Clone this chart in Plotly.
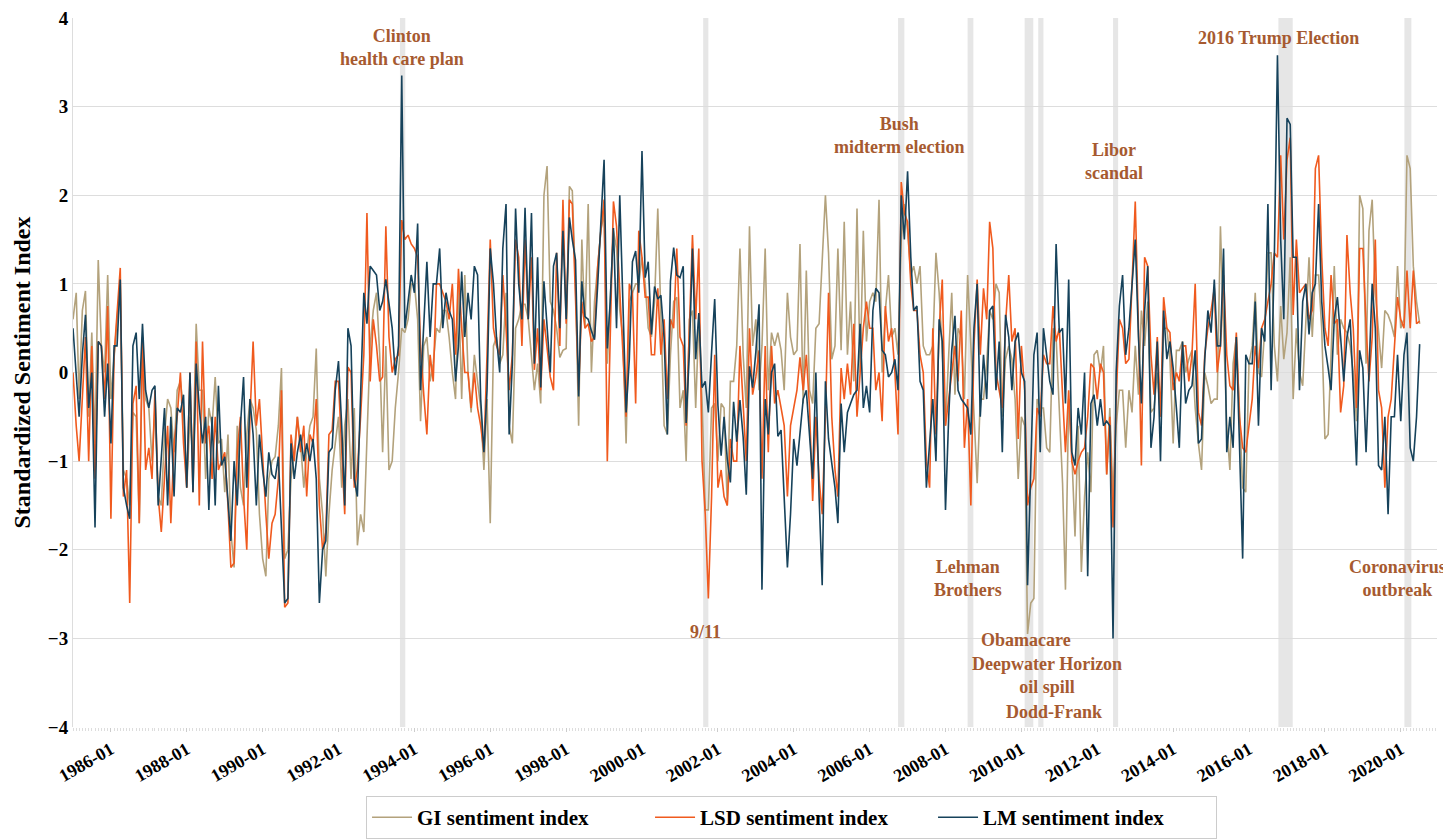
import plotly.graph_objects as go
import pandas as pd

# Monthly observations, 1985-01 .. 2020-07
start_month = "1985-01-01"
n_months = 427

gi_index = [
    0.6, 0.9, -0.3, 0.7, 0.92, -0.5, 0.45, -0.8, 1.27, 0.3, 0.0, 1.1,
    -0.3, 0.2, 0.6, 1.0, -1.1, -1.2, -1.5, -0.45, -0.5, -1.7, 0.25, -0.3,
    -0.4, -1.0, -0.4, -1.4, -1.5, -0.7, -0.3, -0.4, -0.9, -0.2, -0.1, -0.4,
    -1.3, -0.5, -0.95, 0.55, -0.2, -0.2, -1.2, -0.4, -0.6, -0.05, -0.8, -0.75,
    -1.35, -0.7, -1.8, -2.2, -0.6, -1.3, -1.5, -0.7, -0.3, -0.4, -0.65, -1.6,
    -2.1, -2.3, -1.2, -1.0, -0.95, -0.6, 0.05, -2.1, -2.0, -1.2, -0.9, -0.5,
    -0.8, -1.3, -0.9, -0.6, -0.5, 0.27, -1.2, -1.6, -2.3, -1.6, -1.1, -0.8,
    -0.5, -1.3, -0.6, -0.3, -1.2, -0.4, -1.95, -1.6, -1.8, -0.75, 0.3, 0.7,
    0.9, 0.2, -0.9, 0.3, -1.1, -1.0, -0.4, 0.0, 0.5, 0.45, 0.6, 1.0,
    1.0, 0.6, -0.55, 0.3, 0.4, -0.1, 0.1, 0.5, 0.45, 0.7, 0.7, 0.4,
    0.0, -0.3, 1.0, -0.3, 1.1, 0.0, -0.45, 0.2, -0.1, -0.4, -1.1, -0.3,
    -1.7, 0.3, 0.4, 0.1, 0.2, 0.9, -0.6, -0.8, 0.5, 0.6, 0.77, 0.77,
    0.6, 0.2, -0.2, 0.1, -0.35, 2.0, 2.33, 0.8, 0.7, 0.5, 0.17, 0.25,
    0.27, 2.1, 2.05, 1.0, -0.6, 1.5, 0.5, 1.9, 0.0, 0.8, 1.2, 1.6,
    1.8, 0.1, 0.8, 1.6, 1.4, 0.7, 0.4, -0.8, 0.8, 0.9, 1.0, 1.0,
    1.3, 1.0, 0.5, 0.4, 0.8, 1.85, 0.5, -0.6, -0.7, 0.2, 0.8, 0.85,
    -0.4, -0.2, -1.0, 0.6, 0.7, -0.4, 0.6, -0.3, -1.55, -1.55, -0.4, -0.35,
    -1.0, -0.35, -0.4, -1.5, -0.1, -0.1, 0.3, 1.4, 0.2, -0.4, 1.65, 0.3,
    0.6, -0.2, 0.3, 1.4, -0.2, 0.45, 0.3, 0.45, 0.25, -0.2, 0.9, 0.4,
    0.2, 0.25, 1.45, -0.35, 1.15, -0.2, -0.35, 0.5, 0.55, 1.2, 2.0, 1.35,
    0.15, 0.3, 1.4, 0.25, 1.7, 0.2, 0.8, -0.1, 1.85, 0.0, 1.6, 0.35,
    0.8, 0.9, 0.8, 1.95, 0.0, 0.7, 1.1, 0.4, 0.5, 0.2, 1.5, 1.9,
    1.6, 1.1, 1.2, 1.0, 1.2, 0.3, 0.2, 0.2, 0.3, 1.35, 0.9, 0.25,
    -0.6, 0.2, 0.9, -0.25, 0.5, 0.4, -0.3, 1.1, 0.3, -0.35, -1.25, -0.3,
    -0.3, 0.1, 0.7, 0.6, 1.0, 0.9, -0.5, 0.15, 0.3, 0.15, -0.3, -1.2,
    -0.5, -0.6, -2.95, -2.6, -2.55, -0.3, -0.4, -0.4, -0.85, -0.9, 0.5, 0.4,
    -0.35, -1.25, -2.45, -0.3, -0.9, -1.85, -0.6, -2.25, -1.4, -0.9, -1.35, 0.2,
    0.25, 0.0, 0.3, -1.15, -0.4, -1.4, -0.6, -0.2, -0.2, -0.85, -0.2, -0.45,
    0.3, -0.25, 0.7, 0.3, 0.8, -0.45, -0.4, 0.0, -0.5, 0.5, 0.5, 0.15,
    -0.8, 0.25, 0.25, 0.35, 0.0, 0.15, 0.25, -0.4, -0.8, -1.1, 0.0, -0.15,
    -0.35, -0.3, -0.3, 1.65, 0.5, -0.6, -1.1, 0.1, 0.4, -0.4, -1.3, -1.35,
    0.1, 0.3, 0.9, 0.0, -0.05, 0.5, 1.35, 1.35, 0.3, -0.1, 0.75, 0.15,
    0.45, 1.3, -0.3, 0.5, 0.0, -0.15, 0.5, 1.3, 0.4, 1.1, 1.1, 0.5,
    -0.75, -0.7, 0.2, 1.2, 0.2, 0.6, 0.5, 0.45, 0.3, 0.0, -0.55, 2.0,
    1.85, 0.1, 1.6, 1.95, 0.9, 0.5, 0.05, 0.7, 0.65, 0.55, 0.4, 1.2,
    0.5, 0.6, 2.45, 2.3, 1.2, 0.8, 0.55,
]

lsd_index = [
    0.0, -0.6, -1.0, -0.2, 0.4, -1.0, 0.3, -1.2, 0.35, 0.3, -0.3, 0.75,
    -1.65, 0.2, 0.7, 1.18, -1.4, -1.1, -2.6, -0.35, -0.15, -1.7, 0.4, -1.1,
    -0.85, -1.2, -0.2, -1.4, -1.8, -1.2, -0.6, -1.7, -0.8, -0.5, 0.0, -0.8,
    -1.3, 0.0, -1.35, 0.35, -1.5, 0.35, -0.8, -0.6, -1.2, -0.5, -1.1, -1.0,
    -0.9, -1.5, -2.2, -2.15, -0.9, -0.5, -1.4, -2.0, -0.5, 0.35, -0.6, -0.3,
    -1.0, -1.6, -2.1, -1.7, -1.6, -1.2, -0.2, -2.65, -2.6, -0.7, -1.0, -0.5,
    -0.9, -0.6, -1.4, -0.7, -0.8, -0.3, -1.5, -2.0, -1.8, -0.7, -0.65, -0.1,
    -0.1, -0.8, -1.6, 0.06, 0.0, -1.3, -1.1, -0.5, 0.2, 1.8, -0.1, 0.6,
    0.3, -0.1, -0.05, 1.65, 0.4, 0.0, 0.15, 0.2, 1.72, 1.5, 1.55, 1.45,
    1.4, 1.3, 0.3, -0.25, -0.7, 0.2, -0.1, 1.0, 1.0, 0.9, 0.8, 0.6,
    1.0, 0.2, 1.17, 0.5, 0.0, 0.0, -0.4, 0.0, -0.4, -0.6, -0.9, 0.2,
    1.5, 0.5, 0.3, 0.2, 1.1, 0.5, -0.2, 0.2, 1.5, 1.3, 0.3, 1.5,
    0.6, 1.3, 0.03, 0.5, -0.2, 0.6, 0.3, -0.05, -0.2, 1.35, 0.3, 1.95,
    0.55, 1.95, 1.9, 0.7, -0.2, 0.8, 0.5, 0.55, 0.35, 0.4, 1.2, 1.6,
    1.95, -1.0, 0.55, 1.93, 1.65, 0.9, 0.15, -0.5, 1.0, 0.9, -0.35, 1.6,
    1.3, 0.85, 0.85, 0.2, 0.2, 0.95, 0.2, 0.6, -0.3, 0.6, 0.5, 1.4,
    0.4, 0.3, -0.6, 0.5, 1.55, 0.6, 1.4, -1.0, -1.6, -2.55, -1.4, 0.2,
    -1.3, -1.1, -1.4, -1.5, -0.75, -1.0, -1.0, 0.3, -0.3, -1.0, 0.5, -0.25,
    -0.05, 0.25, -1.2, 0.3, -0.9, 0.3, -0.35, -0.2, -0.4, -0.6, -1.4, -0.6,
    -0.4, -0.2, 0.17, -0.2, 0.2, -0.4, -1.45, -0.5, -1.2, -1.6, -0.5, 0.9,
    -0.5, -1.1, -1.4, 0.05, -0.3, 0.1, -0.25, 0.55, -0.5, 0.0, 0.5, 0.8,
    0.5, 0.5, -0.2, 0.0, -0.55, 0.75, 0.35, 0.5, 0.0, -0.7, 2.15, 1.8,
    1.7, 1.0, 0.7, 0.7, 0.2, 0.0, -1.0, -1.3, 0.5, -0.7, 0.5, 1.05,
    -0.6, -0.3, 0.0, 0.3, -0.1, 0.7, -0.85, -0.3, -1.5, 0.3, 1.05, 0.2,
    0.95, 0.6, 1.7, 1.4, 0.0, -0.2, -0.4, 0.55, 1.1, 0.35, 0.5, -0.75,
    0.3, -0.2, -1.5, -1.3, -1.2, -0.4, -0.5, 0.2, 0.1, 0.1, 0.75, 0.35,
    0.5, -0.25, -0.9, -0.2, -1.0, -1.15, -1.0, -0.9, -0.85, -0.5, 0.1, 0.05,
    -0.3, 0.1, 0.0, -1.15, -0.5, -1.75, -0.3, 0.6, 0.5, 0.1, 0.15, 1.0,
    1.93, 0.5, -1.05, 1.3, 1.2, 0.2, -0.25, 0.4, -0.5, 0.85, 0.5, 0.45,
    -0.2, 0.0, -0.1, 0.3, 0.3, -0.1, 0.2, 1.0, -0.45, -0.6, 0.2, 0.5,
    0.7, 0.95, 0.0, 0.3, 1.1, 0.2, -0.15, -0.2, 0.45, -0.5, -0.85, -0.9,
    -0.6, -0.3, 0.3, 0.05, 0.5, 0.6, 0.8, 1.0, 1.35, 1.3, 2.45, 1.5,
    2.4, 2.65, 0.65, 1.5, 0.9, 0.95, 1.0, 0.6, 0.7, 2.3, 2.45, 1.3,
    0.5, 0.3, 1.1, 0.55, 0.6, -0.45, -0.15, 1.55, 0.9, 0.5, -0.4, 1.4,
    1.4, 0.55, -0.1, 0.4, 1.5, -0.2, -0.4, -1.3, -0.5, -0.3, 0.3, 0.85,
    0.6, 0.5, 1.15, 0.5, 1.15, 0.55, 0.58,
]

lm_index = [
    0.5, 0.0, -0.5, 0.2, 0.65, -0.4, 0.0, -1.75, 0.35, 0.3, -0.5, 0.1,
    -0.8, 0.3, 0.3, 1.05, -1.3, -1.5, -1.65, 0.3, 0.45, -0.3, 0.55, -0.2,
    -0.4, -0.2, -0.15, -1.5, -1.0, -0.4, -1.5, -0.5, -1.4, -0.4, -0.45, -0.25,
    -1.3, 0.0, -1.35, 0.1, -0.4, -0.8, -0.5, -1.55, -0.5, -1.5, -0.15, -1.05,
    -0.95, -1.4, -1.9, -1.0, -1.5, -0.6, -0.05, -1.3, -0.3, -0.7, -1.5, -0.7,
    -1.1, -1.4, -0.9, -1.15, -1.2, -0.95, -1.7, -2.6, -2.55, -0.8, -1.2, -0.9,
    -0.7, -1.0, -0.8, -1.0, -0.75, -1.2, -2.6, -2.0, -1.9, -0.9, -0.85, -0.2,
    0.13, -0.6, -1.5, 0.5, 0.3, -1.2, -1.4, -0.3, 0.9, 0.55, 1.2, 1.15,
    1.1, 0.7, 0.8, 1.05, 0.8, 0.5, -0.03, 0.3, 3.35, 0.5, 0.8, 1.1,
    0.9, 1.68, -0.2, 0.6, 1.25, 0.4, 1.0, 1.0, 1.4, 0.5, 0.9, 0.7,
    0.6, -0.1, 0.3, 1.14, 0.4, 0.9, 0.6, 1.2, 1.1, -0.3, -0.9, -0.2,
    1.4, 1.0, 0.4, 0.0, 1.4, 1.9, -0.7, 0.1, 1.85, 1.0, 0.6, 1.86,
    0.6, 1.8, 0.1, 1.3, -0.17, 1.03, 0.5, 0.0, 1.2, 1.35, 0.5, 1.6,
    0.6, 1.75, 1.5, 1.27, -0.27, 1.03, 0.63, 0.6, 0.47, 0.37, 1.0, 1.63,
    2.4, 0.27, 0.8, 1.63, 0.5, 2.0, 0.8, -0.45, 0.15, 1.25, 1.37, 0.9,
    2.5, 1.07, 1.25, 0.43, 0.97, 0.83, 0.87, 0.39, -0.7, 1.03, 1.41, 1.1,
    1.07, 1.2, -0.57, 0.23, 1.4, 0.15, 0.67, -0.17, -0.1, -0.45, 0.23, 0.83,
    -0.37, -0.94, -0.5, -0.98, -1.24, -0.33, -0.78, -0.31, -0.73, -1.38, 0.07, -0.17,
    0.23, 0.77, -2.45, -0.3, -0.7, 0.0, 0.1, -0.72, -0.65, -1.5, -2.2, -1.6,
    -0.75, -1.05, -0.7, -0.3, -0.2, -0.7, -1.2, 0.0, -1.4, -2.4, -0.1, -0.75,
    -1.0, -1.3, -1.7, -0.35, -0.9, -0.45, -0.35, -0.25, -0.2, 0.55, -0.4, -0.15,
    -0.45, 0.7, 0.95, 0.9, 0.25, 0.2, -0.05, 0.0, 0.15, -0.2, 2.0, 1.5,
    2.27, 1.3, 0.7, 0.75, -0.1, -0.2, -1.3, -0.8, -0.3, -1.0, 0.6, 0.35,
    -1.55, -0.5, 0.25, 0.64, -0.2, -0.3, -0.35, -0.4, -0.7, 0.5, 1.0, -0.5,
    0.2, -0.3, 0.7, 0.75, -0.2, 0.35, -0.9, 0.65, 0.4, -0.2, 0.35, 0.45,
    0.0, -0.1, -2.4, -1.0, 0.2, 0.45, -0.9, 0.5, 0.2, -0.1, -0.25, 1.45,
    0.45, 0.5, -0.35, 1.05, -0.9, -1.05, -0.4, -0.7, 0.0, -2.3, -0.35, -0.25,
    -0.6, -0.3, -0.6, -0.55, -0.6, -3.0, 0.0, 0.75, 1.1, 0.2, 0.5, 1.0,
    1.5, 0.4, -0.35, 0.7, 1.2, -0.85, -0.5, 0.35, -1.0, 0.7, 0.15, 0.35,
    0.05, -0.4, -0.85, 0.35, -0.35, -0.2, -0.15, 0.25, -0.8, -0.75, 0.15, 0.7,
    0.45, 1.05, 0.3, 0.3, 1.4, -0.9, -0.5, -0.85, 0.4, -0.8, -2.1, 0.2,
    0.1, 0.1, 0.8, -0.6, 0.5, 0.35, 1.9, -0.2, 1.3, 3.58, 1.5, 0.6,
    2.87, 2.8, 1.3, 1.3, -0.2, 0.8, 1.0, 0.43, 0.9, 1.0, 1.9, 0.8,
    0.3, 0.05, -0.2, 0.6, 0.85, 0.4, -0.1, 0.4, 0.6, -0.2, -1.05, 0.25,
    0.05, -0.9, 0.0, 1.0, 0.5, -1.05, -1.1, -0.5, -1.6, -0.5, -0.5, 0.2,
    -0.55, 0.2, 0.45, -0.85, -1.0, -0.5, 0.32,
]

series_names = ["GI sentiment index", "LSD sentiment index", "LM sentiment index"]
series_colors = ["#B3A27C", "#F05A1E", "#16425B"]

# Event shading (start, end)
event_spans = [
    ("1993-08-15", "1993-10-05"),
    ("2001-08-12", "2001-10-01"),
    ("2006-10-01", "2006-12-01"),
    ("2008-08-01", "2008-09-25"),
    ("2010-02-01", "2010-04-25"),
    ("2010-06-12", "2010-08-01"),
    ("2012-06-01", "2012-07-20"),
    ("2016-10-10", "2017-02-25"),
    ("2020-02-05", "2020-04-12"),
]

# Event labels (text, x date, y value)
event_labels = [
    ("Clinton<br>health care plan", "1993-09-03", 3.67),
    ("Bush<br>midterm election", "2006-10-13", 2.67),
    ("Libor<br>scandal", "2012-06-13", 2.38),
    ("2016 Trump Election", "2016-10-10", 3.77),
    ("9/11", "2001-09-01", -2.93),
    ("Lehman<br>Brothers", "2008-08-07", -2.32),
    ("Obamacare", "2010-02-18", -3.02),
    ("Deepwater Horizon<br>oil spill", "2010-09-07", -3.42),
    ("Dodd-Frank", "2010-11-13", -3.83),
    ("Coronavirus<br>outbreak", "2019-12-01", -2.32),
]

dates = pd.date_range(start_month, periods=n_months, freq="MS")

FONT = "Liberation Serif"
label_color = "#A65A30"

fig = go.Figure()

for series, name, color in zip([gi_index, lsd_index, lm_index], series_names, series_colors):
    fig.add_trace(go.Scatter(
        x=dates, y=series, mode="lines", name="<b>" + name + "</b>",
        line=dict(color=color, width=1.6),
    ))

for x0, x1 in event_spans:
    fig.add_vrect(x0=x0, x1=x1, fillcolor="#D9D9D9", opacity=0.65,
                  line_width=0, layer="below")

for text, xd, yv in event_labels:
    fig.add_annotation(x=xd, y=yv, text="<b>" + text + "</b>", showarrow=False,
                       font=dict(family=FONT, size=18, color=label_color),
                       xanchor="center", yanchor="middle")

fig.update_layout(
    width=1451, height=839,
    margin=dict(l=65, r=22, t=10, b=120, autoexpand=False),
    paper_bgcolor="white", plot_bgcolor="white",
    font=dict(family=FONT, color="black"),
    legend=dict(
        orientation="h", xref="container", yref="container",
        x=0.540, y=0.0095, xanchor="center", yanchor="bottom",
        bordercolor="#CCCCCC", borderwidth=1,
        font=dict(family=FONT, size=21, color="black"),
        itemwidth=40, entrywidth=228,
    ),
)

fig.update_xaxes(
    range=["1985-01-01", "2020-12-15"],
    tick0="1986-01-01", dtick="M24", tickformat="<b>%Y-%m</b>",
    tickangle=-30, automargin=False, ticklabeloverflow="allow",
    tickfont=dict(family=FONT, size=18, color="black"),
    showgrid=False, showline=False, zeroline=False,
    ticks="outside", ticklen=4, tickcolor="#CCCCCC",
    minor=dict(dtick="M1", ticks="outside", ticklen=3, tickcolor="#DDDDDD", showgrid=False),
)

fig.update_yaxes(
    range=[-4, 4], automargin=False, ticklabeloverflow="allow",
    tickvals=[-4, -3, -2, -1, 0, 1, 2, 3, 4],
    ticktext=["<b>\u22124</b>", "<b>\u22123</b>", "<b>\u22122</b>", "<b>\u22121</b>", "<b>0</b>",
              "<b>1</b>", "<b>2</b>", "<b>3</b>", "<b>4</b>"],
    tickfont=dict(family=FONT, size=19, color="black"),
    showgrid=True, gridcolor="#DDDDDD", gridwidth=1,
    zeroline=False, showline=True, linecolor="#DDDDDD",
    title=dict(text="<b>Standardized Sentiment Index</b>",
               font=dict(family=FONT, size=24, color="black"), standoff=10),
)

fig.write_html("out.html")
